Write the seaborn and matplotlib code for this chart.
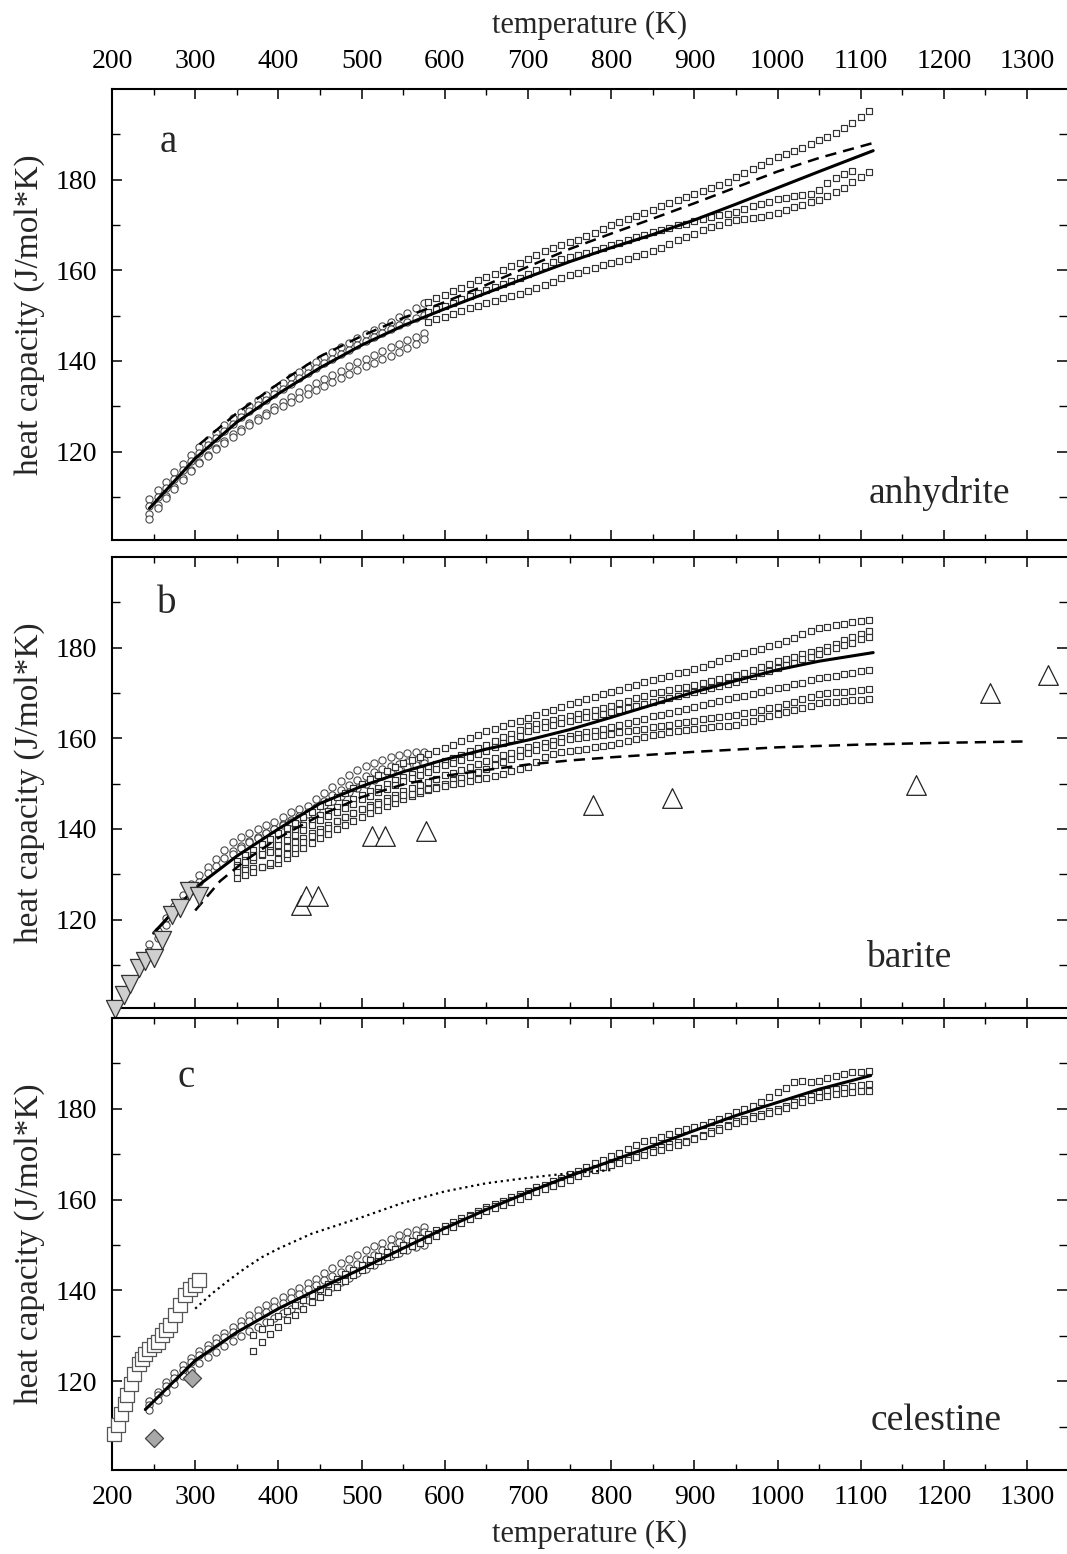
import matplotlib
matplotlib.use("Agg")
import matplotlib.pyplot as plt
import numpy as np
import seaborn as sns
from matplotlib.ticker import FixedLocator, MultipleLocator

# ---------------- panel a: anhydrite ----------------
# DSC runs (open circles), 10 K steps starting at 245 K
a_circ_start = 245
a_circ_1 = [109.5, 111.5, 113.4, 115.4, 117.3, 119.2, 121.0, 122.6, 124.2, 125.8,
            127.4, 128.8, 130.1, 131.4, 132.6, 133.9, 135.2, 136.4, 137.6, 138.7,
            139.8, 140.9, 142.0, 143.0, 144.0, 145.0, 145.9, 146.8, 147.8, 148.7,
            149.6, 150.6, 151.6, 152.8]
a_circ_2 = [108.0, 110.0, 112.0, 114.0, 116.0, 118.0, 119.8, 121.4, 123.0, 124.6,
            126.2, 127.6, 128.9, 130.2, 131.4, 132.7, 133.9, 135.0, 136.2, 137.3,
            138.4, 139.5, 140.5, 141.5, 142.5, 143.5, 144.4, 145.3, 146.2, 147.0,
            147.9, 148.7, 149.4, 150.2]
a_circ_3 = [106.3, 108.3, 110.2, 112.2, 114.1, 116.0, 117.8, 119.3, 120.8, 122.3,
            123.8, 125.1, 126.3, 127.5, 128.6, 129.8, 130.9, 132.0, 133.1, 134.1,
            135.1, 136.1, 137.0, 137.9, 138.8, 139.7, 140.5, 141.3, 142.2, 143.0,
            143.8, 144.6, 145.4, 146.2]
a_circ_4 = [105.2, 107.5, 109.7, 111.8, 113.8, 115.7, 117.4, 119.0, 120.5, 121.9,
            123.3, 124.6, 125.8, 127.0, 128.1, 129.1, 130.0, 130.9, 131.8, 132.7,
            133.6, 134.5, 135.4, 136.3, 137.2, 138.0, 138.8, 139.6, 140.4, 141.2,
            142.0, 142.9, 143.8, 144.8]
# drop-calorimetry runs (open squares), 10 K steps starting at 580 K
a_sq_start = 580
a_sq_1 = [153.0, 153.8, 154.6, 155.4, 156.2, 157.0, 157.8, 158.5, 159.3, 160.1,
          160.9, 161.7, 162.5, 163.4, 164.3, 165.0, 165.6, 166.2, 166.8, 167.5,
          168.3, 169.1, 169.9, 170.6, 171.3, 172.0, 172.7, 173.4, 174.1, 174.8,
          175.5, 176.2, 176.9, 177.5, 178.2, 178.9, 179.6, 180.5, 181.4, 182.3,
          183.3, 184.2, 185.0, 185.7, 186.4, 187.1, 187.9, 188.7, 189.5, 190.4,
          191.3, 192.6, 193.9, 195.2]
a_sq_2 = [150.8, 151.5, 152.2, 152.9, 153.6, 154.3, 155.0, 155.7, 156.3, 156.9,
          157.6, 158.4, 159.2, 160.1, 161.0, 161.9, 162.5, 163.0, 163.4, 163.9,
          164.4, 164.9, 165.5, 166.1, 166.7, 167.3, 167.9, 168.4, 168.9, 169.4,
          169.9, 170.3, 170.8, 171.3, 171.7, 172.1, 172.4, 172.9, 173.5, 174.1,
          174.6, 175.1, 175.7, 176.0, 176.3, 176.6, 176.9, 177.8, 179.2, 180.4,
          181.2, 182.0]
a_sq_3 = [148.5, 149.2, 149.8, 150.4, 151.0, 151.6, 152.2, 152.8, 153.3, 153.8,
          154.3, 154.8, 155.4, 156.0, 156.7, 157.5, 158.3, 158.9, 159.5, 160.1,
          160.6, 161.1, 161.6, 162.1, 162.6, 163.1, 163.6, 164.2, 165.0, 165.8,
          166.6, 167.4, 168.1, 168.8, 169.5, 170.1, 170.6, 171.0, 171.4, 171.6,
          171.8, 172.2, 172.7, 173.3, 173.9, 174.5, 175.0, 175.6, 176.3, 177.2,
          178.2, 179.4, 180.5, 181.8]
a_fit_T = [245, 300, 350, 400, 450, 500, 550, 600, 650, 700, 750, 800, 850, 900,
           950, 1000, 1050, 1115]
a_fit_cp = [107.5, 118.5, 126.5, 132.8, 138.5, 143.5, 147.8, 151.5, 155.0, 158.5,
            161.9, 165.0, 167.9, 171.1, 174.6, 178.2, 181.8, 186.4]
a_dash_T = [305, 350, 400, 450, 500, 550, 600, 650, 700, 750, 800, 850, 900, 950,
            1000, 1050, 1115]
a_dash_cp = [121.6, 128.5, 135.0, 141.0, 145.5, 149.5, 153.0, 156.8, 160.8, 164.7,
             168.1, 171.4, 174.8, 178.3, 181.8, 184.8, 188.1]

# ---------------- panel b: barite ----------------
b_circ_start = 245
b_circ_1 = [114.5, 117.5, 120.3, 123.0, 125.5, 127.8, 129.8, 131.6, 133.3, 135.3,
            137.0, 138.2, 139.1, 140.0, 140.8, 141.6, 142.6, 143.7, 144.4, 145.0,
            146.5, 148.0, 149.3, 150.6, 151.8, 152.9, 153.8, 154.6, 155.2, 155.8,
            156.3, 156.7, 156.9, 156.9]
b_circ_2 = [113.0, 116.0, 118.8, 121.5, 124.0, 126.3, 128.3, 130.2, 131.9, 133.6,
            135.1, 136.3, 137.4, 138.3, 139.1, 140.0, 141.0, 142.0, 142.9, 143.7,
            144.9, 146.2, 147.4, 148.6, 149.7, 150.8, 151.7, 152.5, 153.2, 153.8,
            154.4, 154.8, 155.1, 155.3]
b_circ_3_start = 345
b_circ_3 = [134.5, 135.8, 137.0, 138.1, 139.1, 140.0, 140.8, 141.6, 142.4, 143.2,
            144.2, 145.2, 146.2, 147.2, 148.2, 149.1, 150.0, 150.8, 151.6, 152.4,
            153.0, 153.6, 154.1, 154.6]
b_sq_start = 350
b_sq_1 = [133.0, 134.2, 135.4, 136.6, 137.8, 139.0, 140.2, 141.4, 142.6, 143.8,
          145.0, 146.0, 147.0, 148.0, 149.0, 150.0, 150.9, 151.8, 152.7, 153.6,
          154.5, 155.2, 155.8, 156.5, 157.1, 157.8, 158.5, 159.3, 160.0, 160.8,
          161.5, 162.1, 162.7, 163.3, 163.9, 164.5, 165.1, 165.7, 166.3, 166.9,
          167.5, 168.0, 168.6, 169.1, 169.7, 170.2, 170.7, 171.3, 171.8, 172.4,
          172.9, 173.4, 173.8, 174.3, 174.7, 175.2, 175.8, 176.4, 177.0, 177.6,
          178.2, 178.7, 179.2, 179.8, 180.3, 180.8, 181.5, 182.2, 182.9, 183.6,
          184.3, 184.6, 184.9, 185.3, 185.6, 185.9, 186.2]
b_sq_2 = [132.0, 133.1, 134.2, 135.3, 136.4, 137.5, 138.6, 139.7, 140.8, 141.9,
          143.0, 143.9, 144.8, 145.7, 146.6, 147.5, 148.3, 149.1, 149.9, 150.7,
          151.5, 152.2, 152.9, 153.6, 154.3, 155.0, 155.7, 156.4, 157.1, 157.8,
          158.5, 159.3, 160.2, 161.0, 161.9, 162.7, 163.1, 163.5, 164.0, 164.4,
          164.8, 165.3, 165.7, 166.2, 166.6, 167.1, 167.7, 168.2, 168.8, 169.3,
          169.9, 170.3, 170.6, 171.0, 171.3, 171.7, 172.1, 172.6, 173.0, 173.5,
          173.9, 174.5, 175.1, 175.8, 176.4, 177.0, 177.5, 178.0, 178.5, 179.0,
          179.5, 180.2, 180.9, 181.6, 182.3, 183.0, 183.7]
b_sq_3 = [131.0, 132.1, 133.2, 134.3, 135.4, 136.5, 137.6, 138.7, 139.8, 140.9,
          142.0, 142.9, 143.8, 144.7, 145.6, 146.5, 147.3, 148.1, 148.9, 149.7,
          150.5, 151.2, 151.9, 152.6, 153.3, 154.0, 154.6, 155.3, 155.9, 156.6,
          157.2, 158.1, 158.9, 159.8, 160.6, 161.5, 162.0, 162.4, 162.9, 163.3,
          163.8, 164.2, 164.6, 164.9, 165.3, 165.7, 166.2, 166.6, 167.1, 167.5,
          168.0, 168.4, 168.9, 169.3, 169.8, 170.2, 170.7, 171.1, 171.6, 172.0,
          172.5, 173.1, 173.7, 174.3, 174.9, 175.5, 176.1, 176.7, 177.4, 178.0,
          178.6, 179.2, 179.9, 180.5, 181.1, 181.8, 182.4]
b_sq_4 = [131.5, 132.7, 133.8, 134.5, 134.8, 135.0, 136.0, 137.0, 138.0, 139.0,
          140.0, 140.9, 141.8, 142.7, 143.6, 144.5, 145.3, 146.0, 146.8, 147.5,
          148.3, 149.0, 149.7, 150.4, 151.1, 151.8, 152.4, 153.1, 153.7, 154.4,
          155.0, 155.6, 156.2, 156.8, 157.4, 158.0, 158.5, 159.0, 159.5, 160.0,
          160.5, 160.9, 161.3, 161.7, 162.1, 162.5, 163.0, 163.4, 163.9, 164.3,
          164.8, 165.2, 165.6, 166.1, 166.5, 166.9, 167.3, 167.7, 168.2, 168.6,
          169.0, 169.4, 169.8, 170.2, 170.6, 171.0, 171.4, 171.9, 172.3, 172.8,
          173.2, 173.5, 173.8, 174.2, 174.5, 174.8, 175.1]
b_sq_5 = [130.5, 130.9, 131.3, 131.7, 132.1, 132.5, 133.6, 134.7, 135.8, 136.9,
          138.0, 138.9, 139.9, 140.8, 141.8, 142.7, 143.5, 144.2, 145.0, 145.7,
          146.5, 147.2, 147.9, 148.6, 149.3, 150.0, 150.7, 151.3, 152.0, 152.6,
          153.3, 154.0, 154.7, 155.4, 156.1, 156.8, 157.4, 158.0, 158.6, 159.2,
          159.8, 160.0, 160.3, 160.5, 160.8, 161.0, 161.3, 161.6, 161.8, 162.1,
          162.4, 162.7, 163.0, 163.3, 163.6, 163.9, 164.2, 164.4, 164.7, 164.9,
          165.2, 165.5, 165.9, 166.2, 166.6, 166.9, 167.5, 168.0, 168.6, 169.1,
          169.7, 169.9, 170.1, 170.3, 170.4, 170.6, 170.8]
b_sq_6 = [129.2, 129.9, 130.6, 131.5, 132.4, 133.4, 134.5, 135.8, 137.1, 138.4,
          139.3, 140.2, 141.8, 142.7, 143.5, 144.3, 144.9, 145.5, 146.1, 146.8,
          147.4, 147.8, 148.3, 148.7, 149.1, 149.5, 149.9, 150.2, 150.6, 150.9,
          151.2, 151.7, 152.2, 152.7, 153.2, 153.7, 154.8, 155.9, 156.6, 156.9,
          157.1, 157.4, 157.7, 158.0, 158.3, 158.6, 159.0, 159.5, 159.9, 160.3,
          160.7, 161.0, 161.3, 161.5, 161.8, 162.0, 162.2, 162.4, 162.6, 162.8,
          163.0, 163.5, 163.9, 164.4, 164.8, 165.3, 165.8, 166.3, 166.7, 167.2,
          167.7, 167.9, 168.1, 168.2, 168.4, 168.5, 168.6]
b_up_T = [427, 433, 448, 513, 528, 577, 778, 873, 1166, 1255, 1325]
b_up_cp = [123.1, 125.2, 125.3, 138.5, 138.5, 139.5, 145.2, 146.8, 149.7, 169.9, 173.9]
b_down_T = [204, 214, 222, 232, 240, 250, 260, 272, 282, 292, 304]
b_down_cp = [100.2, 103.4, 105.8, 109.3, 110.8, 111.5, 115.5, 121.0, 122.5, 126.2, 125.1]
b_fit_T = [250, 300, 350, 400, 450, 500, 550, 600, 650, 700, 750, 800, 850, 900,
           950, 1000, 1050, 1115]
b_fit_cp = [117.0, 127.0, 134.0, 140.0, 145.6, 149.4, 152.6, 155.3, 157.6, 159.6,
            161.9, 164.6, 167.4, 170.2, 172.7, 175.1, 177.0, 178.9]
b_dash_T = [300, 330, 360, 400, 450, 500, 550, 600, 650, 700, 750, 800, 850, 900,
            950, 1000, 1100, 1200, 1300]
b_dash_cp = [122.0, 128.5, 133.0, 138.0, 143.0, 147.0, 149.8, 151.7, 153.0, 154.2,
             155.1, 155.8, 156.4, 157.0, 157.5, 158.0, 158.6, 159.0, 159.3]

# ---------------- panel c: celestine ----------------
c_circ_start = 245
c_circ_1 = [115.6, 117.7, 119.8, 121.8, 123.6, 125.2, 126.7, 128.1, 129.5, 130.7,
            132.0, 133.3, 134.5, 135.6, 136.7, 137.7, 138.6, 139.6, 140.6, 141.6,
            142.6, 143.8, 145.0, 146.0, 146.9, 147.8, 148.8, 149.7, 150.5, 151.3,
            152.1, 152.8, 153.4, 153.9]
c_circ_2 = [114.8, 116.9, 118.9, 120.8, 122.6, 124.2, 125.7, 127.1, 128.4, 129.7,
            130.9, 132.1, 133.2, 134.3, 135.3, 136.3, 137.3, 138.3, 139.3, 140.3,
            141.3, 142.2, 143.1, 144.0, 144.9, 145.9, 146.9, 147.9, 148.8, 149.7,
            150.6, 151.4, 152.2, 152.9]
c_circ_3 = [113.8, 115.8, 117.7, 119.5, 121.1, 122.6, 124.0, 125.3, 126.5, 127.7,
            128.8, 129.9, 131.0, 132.0, 133.0, 134.0, 135.0, 135.9, 136.8, 137.8,
            138.8, 139.8, 140.8, 141.8, 142.8, 143.8, 144.8, 145.7, 146.6, 147.5,
            148.3, 149.0, 149.6, 150.0]
c_sq_start = 370
c_sq_1 = [130.1, 131.6, 133.0, 134.4, 135.5, 136.8, 138.0, 139.1, 140.3, 141.4,
          142.5, 143.6, 144.6, 145.6, 146.6, 147.5, 148.4, 149.2, 150.0, 150.8,
          151.6, 152.4, 153.3, 154.2, 155.1, 155.9, 156.7, 157.5, 158.3, 159.1,
          159.8, 160.5, 161.3, 162.0, 162.7, 163.3, 164.0, 164.8, 165.6, 166.4,
          167.2, 168.0, 168.8, 169.5, 170.3, 171.1, 172.0, 172.8, 173.2, 173.8,
          174.5, 175.2, 175.6, 176.0, 176.5, 177.1, 177.8, 178.5, 179.2, 179.9,
          180.5, 181.4, 182.6, 183.6, 184.5, 185.8, 186.2, 185.9, 186.0, 186.8,
          187.3, 187.7, 188.0, 188.1, 188.2]
c_sq_2 = [126.7, 128.6, 130.4, 132.0, 133.4, 134.6, 136.0, 137.4, 138.6, 139.6,
          140.8, 142.0, 143.3, 144.5, 145.5, 146.4, 147.3, 148.1, 148.9, 149.7,
          150.5, 151.5, 152.6, 153.6, 154.5, 155.4, 156.3, 157.1, 157.9, 158.6,
          159.3, 160.0, 160.7, 161.4, 162.1, 162.8, 163.5, 164.3, 165.0, 165.7,
          166.3, 166.9, 167.4, 168.0, 168.6, 169.2, 169.8, 170.4, 171.0, 171.6,
          172.2, 172.6, 173.0, 173.6, 174.3, 175.0, 175.8, 176.5, 177.2, 177.8,
          178.3, 178.9, 179.5, 180.0, 180.6, 181.5, 182.2, 182.9, 183.4, 183.9,
          184.3, 184.6, 184.9, 185.2, 185.4]
c_sq_3_start = 580
c_sq_3 = [151.0, 152.0, 153.0, 154.0, 154.9, 155.8, 156.6, 157.4, 158.1, 158.8,
          159.5, 160.2, 160.9, 161.6, 162.3, 163.0, 163.7, 164.4, 165.1, 165.8,
          166.5, 167.1, 167.6, 168.1, 168.7, 169.3, 169.9, 170.5, 171.0, 171.5,
          172.0, 172.6, 173.3, 174.0, 174.7, 175.4, 176.1, 176.8, 177.4, 178.0,
          178.5, 179.0, 179.5, 180.1, 180.8, 181.4, 182.0, 182.5, 182.9, 183.2,
          183.5, 183.7, 183.8, 183.9]
c_big_T = [202, 207, 211, 215, 218, 223, 227, 232, 236, 240, 245, 250, 255, 260,
           265, 270, 276, 282, 288, 294, 300, 304]
c_big_cp = [108.5, 110.3, 112.9, 115.1, 116.9, 119.5, 121.7, 123.9, 125.0, 126.1,
            127.2, 127.9, 128.6, 130.1, 131.2, 132.3, 134.5, 136.7, 138.9, 140.3,
            141.3, 142.2]
c_diamond_T = [250, 296]
c_diamond_cp = [107.6, 120.8]
c_fit_T = [240, 300, 350, 400, 450, 500, 550, 600, 650, 700, 750, 800, 850, 900,
           950, 1000, 1050, 1112]
c_fit_cp = [113.8, 124.6, 130.8, 136.0, 140.5, 144.8, 149.3, 153.7, 157.8, 161.6,
            165.2, 168.5, 171.8, 175.2, 178.5, 181.4, 184.3, 187.3]
c_dot_T = [300, 320, 340, 360, 380, 400, 440, 500, 550, 600, 650, 700, 750, 800]
c_dot_cp = [136.0, 139.3, 142.2, 144.9, 147.3, 149.2, 152.5, 156.1, 159.3, 161.8,
            163.6, 164.8, 165.8, 166.5]


def grid(start, values):
    # measurement temperatures of a run, one reading every 10 K
    return start + 10 * np.arange(len(values))


def run_circles(ax, start, values):
    sns.scatterplot(x=grid(start, values), y=values, ax=ax, marker="o", s=27,
                    color="white", edgecolor="#4a4a4a", linewidth=0.8,
                    zorder=2, legend=False)


def run_squares(ax, start, values):
    sns.scatterplot(x=grid(start, values), y=values, ax=ax, marker="s", s=17,
                    color="white", edgecolor="#333333", linewidth=0.85,
                    zorder=2, legend=False)


def curve(ax, t, cp, ls, lw):
    sns.lineplot(x=t, y=cp, ax=ax, color="black", linewidth=lw, linestyle=ls,
                 estimator=None, sort=False, legend=False, zorder=3)


sns.set_theme(style="ticks")
plt.rcParams["font.family"] = ["Liberation Serif", "DejaVu Serif"]

fig = plt.figure(figsize=(10.67, 15.54), dpi=100)
ax_a = fig.add_axes([0.105, 0.6525, 0.895, 0.2902])
ax_b = fig.add_axes([0.105, 0.3514, 0.895, 0.2902])
ax_c = fig.add_axes([0.105, 0.0541, 0.895, 0.2909])

# panel a
for run in (a_circ_1, a_circ_2, a_circ_3, a_circ_4):
    run_circles(ax_a, a_circ_start, run)
for run in (a_sq_1, a_sq_2, a_sq_3):
    run_squares(ax_a, a_sq_start, run)
curve(ax_a, a_dash_T, a_dash_cp, (0, (4.5, 2.8)), 1.8)
curve(ax_a, a_fit_T, a_fit_cp, "-", 2.2)

# panel b
for run in (b_circ_1, b_circ_2):
    run_circles(ax_b, b_circ_start, run)
run_circles(ax_b, b_circ_3_start, b_circ_3)
for run in (b_sq_1, b_sq_2, b_sq_3, b_sq_4, b_sq_5, b_sq_6):
    run_squares(ax_b, b_sq_start, run)
curve(ax_b, b_dash_T, b_dash_cp, (0, (4.5, 2.8)), 1.8)
curve(ax_b, b_fit_T, b_fit_cp, "-", 2.2)
sns.scatterplot(x=b_up_T, y=b_up_cp, ax=ax_b, marker="^", s=200, color="white",
                edgecolor="#222222", linewidth=0.9, zorder=4, legend=False)
sns.scatterplot(x=b_down_T, y=b_down_cp, ax=ax_b, marker="v", s=170,
                color="#cfcfcf", edgecolor="#333333", linewidth=0.9, zorder=4,
                legend=False, clip_on=False)

# panel c
for run in (c_circ_1, c_circ_2, c_circ_3):
    run_circles(ax_c, c_circ_start, run)
for run in (c_sq_1, c_sq_2):
    run_squares(ax_c, c_sq_start, run)
run_squares(ax_c, c_sq_3_start, c_sq_3)
curve(ax_c, c_dot_T, c_dot_cp, (0, (1, 1.7)), 1.6)
curve(ax_c, c_fit_T, c_fit_cp, "-", 2.2)
sns.scatterplot(x=c_big_T, y=c_big_cp, ax=ax_c, marker="s", s=95, color="white",
                edgecolor="#555555", linewidth=0.9, zorder=4, legend=False,
                clip_on=False)
sns.scatterplot(x=c_diamond_T, y=c_diamond_cp, ax=ax_c, marker="D", s=85,
                color="#a8a8a8", edgecolor="#444444", linewidth=0.9, zorder=4,
                legend=False)

for ax in (ax_a, ax_b, ax_c):
    ax.set_xlim(200, 1348)
    ax.set_ylim(100.5, 200)
    ax.xaxis.set_major_locator(MultipleLocator(100))
    ax.xaxis.set_minor_locator(MultipleLocator(50))
    ax.yaxis.set_major_locator(FixedLocator([120, 140, 160, 180]))
    ax.yaxis.set_minor_locator(FixedLocator([110, 130, 150, 170, 190]))
    ax.tick_params(which="both", direction="in", top=True, right=True,
                   bottom=True, left=True, labelsize=20, colors="black")
    ax.tick_params(which="major", length=7, width=1.1, pad=11)
    ax.tick_params(which="minor", length=4.5, width=1.0)
    ax.tick_params(axis="y", which="minor", length=6)
    ax.tick_params(labelbottom=False, labeltop=False)
    for side in ("left", "top", "bottom"):
        ax.spines[side].set_linewidth(1.5)
        ax.spines[side].set_color("black")
    ax.spines["right"].set_visible(False)
    ax.set_xlabel("")
    ax.set_ylabel("heat capacity (J/mol*K)", fontsize=24)
    ax.yaxis.set_label_coords(-0.07, 0.5)

ax_a.tick_params(labeltop=True)
ax_a.xaxis.set_label_position("top")
ax_a.set_xlabel("temperature (K)", fontsize=22)
ax_a.xaxis.set_label_coords(0.5, 1.125)

ax_c.tick_params(labelbottom=True)
ax_c.set_xlabel("temperature (K)", fontsize=22)
ax_c.xaxis.set_label_coords(0.5, -0.111)

ax_a.text(0.05, 0.86, "a", transform=ax_a.transAxes, fontsize=28)
ax_a.text(0.792, 0.082, "anhydrite", transform=ax_a.transAxes, fontsize=27)
ax_b.text(0.047, 0.876, "b", transform=ax_b.transAxes, fontsize=28)
ax_b.text(0.79, 0.091, "barite", transform=ax_b.transAxes, fontsize=27)
ax_c.text(0.069, 0.847, "c", transform=ax_c.transAxes, fontsize=28)
ax_c.text(0.794, 0.088, "celestine", transform=ax_c.transAxes, fontsize=27)

fig.savefig("out.png", dpi=100, facecolor="white")
plt.close(fig)
